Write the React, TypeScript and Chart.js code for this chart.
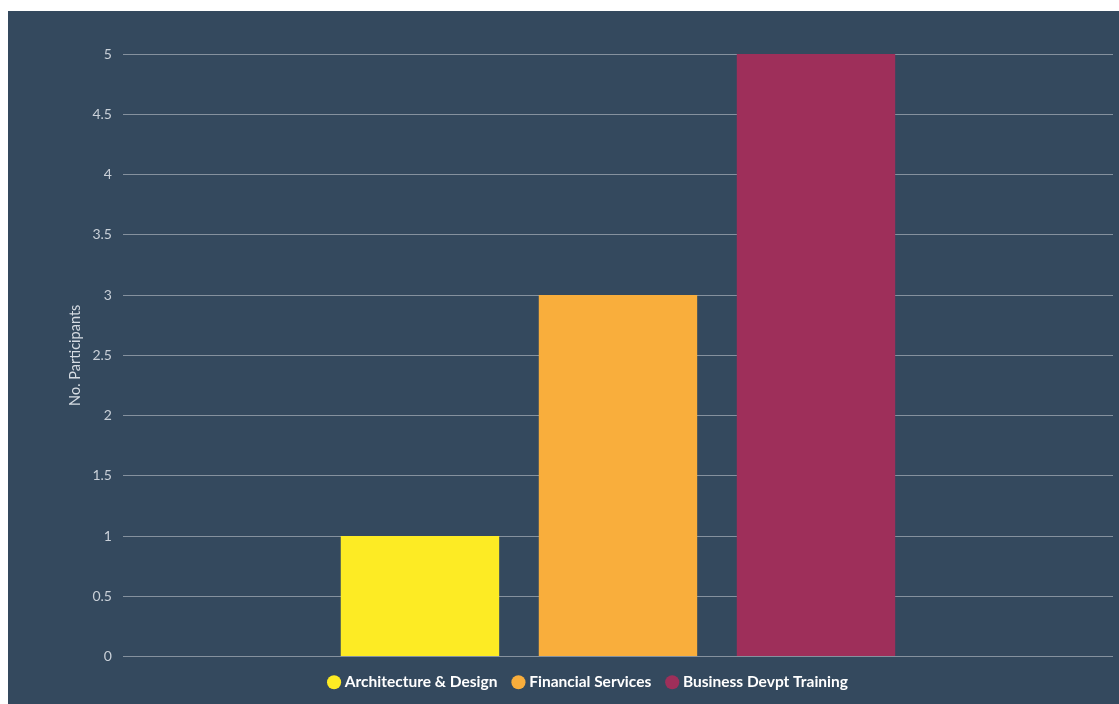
import React, { useEffect, useRef } from "react";
import { Chart, registerables } from "chart.js";

Chart.register(...registerables);

const categories = [""];
const seriesNames = ["Architecture & Design", "Financial Services", "Business Devpt Training"];
const seriesValues = [[1], [3], [5]];
const seriesColors = ["#fdeb24", "#f9ae3c", "#9e2f5a"];
const yTitle = "No. Participants";

export default function App() {
  const ref = useRef<HTMLCanvasElement | null>(null);
  useEffect(() => {
    if (!ref.current) return;
    const chart = new Chart(ref.current, {
      type: "bar",
      data: {
        labels: categories,
        datasets: seriesNames.map((name, i) => ({
          label: name,
          data: seriesValues[i],
          backgroundColor: seriesColors[i],
          borderWidth: 0,
          categoryPercentage: 0.6,
          barPercentage: 0.8,
        })),
      },
      options: {
        animation: false,
        responsive: false,
        maintainAspectRatio: false,
        layout: { padding: { top: 43, left: 58, right: 6, bottom: 11 } },
        plugins: {
          tooltip: { enabled: false },
          legend: {
            position: "bottom",
            labels: {
              usePointStyle: true,
              pointStyle: "circle",
              boxWidth: 6,
              boxHeight: 10,
              padding: 18,
              color: "#ffffff",
              font: { family: "Lato", size: 15.5, weight: "bold" },
            },
          },
        },
        scales: {
          x: { display: false },
          y: {
            min: 0,
            max: 5,
            ticks: {
              stepSize: 0.5,
              padding: 11,
              color: "#c9d0d8",
              font: { family: "Lato", size: 14 },
              callback: (v: any) => String(Number(v)),
            },
            grid: { color: "rgba(255,255,255,0.4)", drawTicks: false, lineWidth: 1 },
            border: { display: false },
            title: {
              display: true,
              text: yTitle,
              color: "#d5dbe2",
              font: { family: "Lato", size: 14.5 },
              padding: { top: 1, bottom: -3 },
            },
          },
        },
      },
    });
    return () => chart.destroy();
  }, []);
  return (
    <div style={{ position: "fixed", left: 8, top: 11, width: 1111, height: 700, background: "#34495e" }}>
      <canvas ref={ref} width={1111} height={700} style={{ display: "block" }} />
    </div>
  );
}
